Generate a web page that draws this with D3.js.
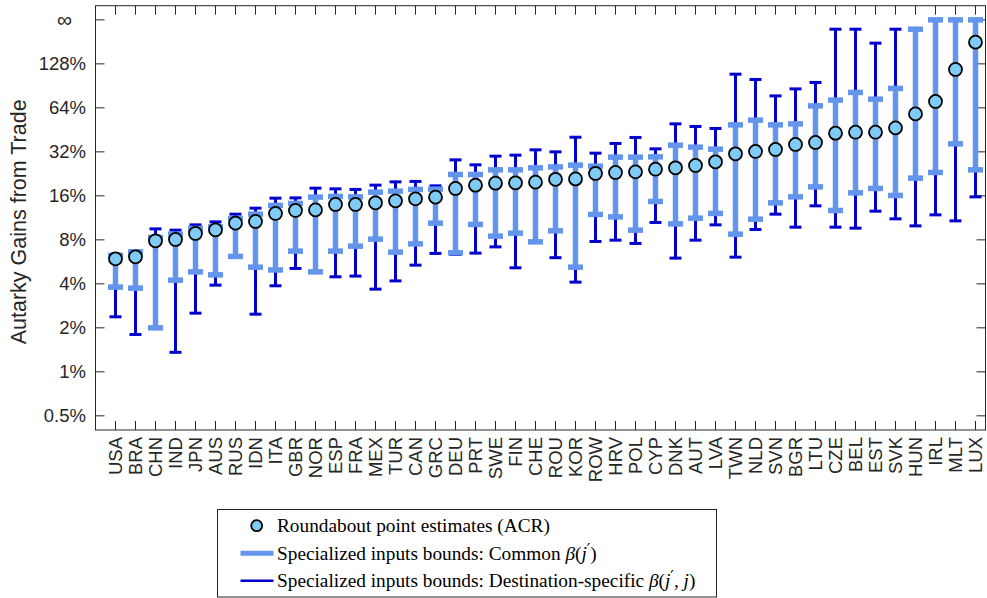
<!DOCTYPE html>
<html>
<head>
<meta charset="utf-8">
<script src="https://cdn.jsdelivr.net/npm/d3@7"></script>
<style>
  body { margin: 0; background: #fff; }
  svg { display: block; }
</style>
</head>
<body>
<div id="chart"></div>
<script>
// Countries sorted by the roundabout (ACR) estimate
const countries = ["USA", "BRA", "CHN", "IND", "JPN", "AUS", "RUS", "IDN", "ITA", "GBR", "NOR",
    "ESP", "FRA", "MEX", "TUR", "CAN", "GRC", "DEU", "PRT", "SWE", "FIN", "CHE",
    "ROU", "KOR", "ROW", "HRV", "POL", "CYP", "DNK", "AUT", "LVA", "TWN", "NLD",
    "SVN", "BGR", "LTU", "CZE", "BEL", "EST", "SVK", "HUN", "IRL", "MLT", "LUX"];

// Gains from trade in percent (Infinity = unbounded)
const pointEst = [5.93, 6.12, 7.88, 8.05, 8.85, 9.36, 10.41, 10.69, 12.13, 12.71, 12.83,
    13.97, 13.97, 14.33, 14.79, 15.26, 15.68, 17.98, 18.94, 19.54, 19.64, 19.86,
    20.75, 20.9, 22.77, 23.13, 23.35, 24.36, 24.87, 25.83, 27.34, 31.01, 32.2,
    33.24, 35.96, 37.1, 42.96, 43.6, 43.6, 46.7, 58.2, 70.8, 117.2, 180.2];

const commonLo = [3.80, 3.74, 2.00, 4.24, 4.83, 4.61, 6.16, 5.20, 4.98, 6.70, 4.83,
    6.70, 7.24, 8.09, 6.59, 7.51, 10.41, 6.52, 10.20, 8.48, 8.89, 7.75,
    9.22, 5.20, 11.94, 11.49, 9.32, 14.65, 10.29, 11.26, 12.13, 8.75, 11.08,
    14.33, 15.75, 18.44, 12.71, 16.78, 17.98, 16.10, 21.15, 23.13, 36.3, 24.10];
const commonHi = [6.26, 6.62, 8.31, 8.75, 9.57, 9.82, 11.21, 11.99, 13.76, 14.20, 15.68,
    15.85, 15.75, 16.96, 17.23, 17.70, 17.78, 22.41, 22.41, 24.10, 24.10, 24.87,
    25.23, 25.95, 25.55, 29.44, 29.44, 29.58, 35.56, 34.46, 33.39, 48.96, 52.73,
    48.96, 49.74, 66.05, 72.3, 81.6, 73.4, 86.9, 221, Infinity, Infinity, Infinity];

const destLo = [2.38, 1.80, 2.00, 1.36, 2.52, 3.92, 6.16, 2.48, 3.88, 5.10, 4.83,
    4.47, 4.52, 3.68, 4.19, 5.37, 6.46, 6.36, 6.49, 7.16, 5.15, 7.75,
    6.04, 4.11, 7.80, 7.96, 7.56, 10.52, 6.00, 7.96, 10.13, 6.09, 9.42,
    11.99, 9.77, 13.67, 9.77, 9.62, 12.57, 11.14, 9.97, 11.86, 10.79, 15.75];
const destHi = [6.36, 6.73, 9.51, 9.32, 10.13, 10.62, 11.99, 13.18, 15.43, 15.50, 18.06,
    17.87, 17.70, 18.94, 19.95, 20.08, 18.73, 28.21, 26.08, 29.91, 30.38, 33.03,
    32.0, 40.3, 31.35, 36.53, 40.15, 33.55, 49.74, 47.74, 46.26, 108.8, 100.1,
    77.3, 86.3, 95.5, 221, 221, 177.4, 221, 221, Infinity, Infinity, Infinity];

const yTicks = [0.5, 1, 2, 4, 8, 16, 32, 64, 128, 256];
const yTickLabels = ["0.5%", "1%", "2%", "4%", "8%", "16%", "32%", "64%", "128%", "\u221E"];
const INF_LEVEL = 256; // where "infinity" is drawn on the axis

const width = 987, height = 598;
const margin = { left: 95.5, right: 1.5, top: 5.7, bottom: 168 };

const rows = countries.map((c, i) => ({
    name: c,
    pos: i + 1,
    p: pointEst[i],
    cLo: commonLo[i], cHi: commonHi[i],
    dLo: destLo[i], dHi: destHi[i]
}));
const fin = v => isFinite(v) ? v : INF_LEVEL;

const svg = d3.select("#chart").append("svg")
    .attr("width", width)
    .attr("height", height);

const x = d3.scaleLinear()
    .domain([0, 44.5])
    .range([margin.left, width - margin.right]);
const y = d3.scaleLog().base(2)
    .domain([0.4, 320])
    .range([height - margin.bottom, margin.top]);

const x0 = x.range()[0], x1 = x.range()[1];
const y0 = y.range()[0], y1 = y.range()[1];
const axisColor = "#262626";
const tickLen = 9;
const font = "'Liberation Sans', Arial, Helvetica, sans-serif";

// Axes frame with inward ticks on all four sides
const axes = svg.append("g");
axes.append("rect")
    .attr("x", x0).attr("y", y1)
    .attr("width", x1 - x0).attr("height", y0 - y1)
    .attr("fill", "none").attr("stroke", axisColor).attr("stroke-width", 1);

axes.selectAll("line.xb").data(rows).join("line")
    .attr("x1", d => x(d.pos)).attr("x2", d => x(d.pos))
    .attr("y1", y0).attr("y2", y0 - tickLen)
    .attr("stroke", axisColor);
axes.selectAll("line.xt").data(rows).join("line")
    .attr("x1", d => x(d.pos)).attr("x2", d => x(d.pos))
    .attr("y1", y1).attr("y2", y1 + tickLen)
    .attr("stroke", axisColor);
axes.selectAll("line.yl").data(yTicks).join("line")
    .attr("x1", x0).attr("x2", x0 + tickLen)
    .attr("y1", d => y(d)).attr("y2", d => y(d))
    .attr("stroke", axisColor);
axes.selectAll("line.yr").data(yTicks).join("line")
    .attr("x1", x1).attr("x2", x1 - tickLen)
    .attr("y1", d => y(d)).attr("y2", d => y(d))
    .attr("stroke", axisColor);

// y tick labels
axes.selectAll("text.ylab").data(yTicks).join("text")
    .attr("x", (d, i) => i === yTicks.length - 1 ? 72 : 86)
    .attr("y", d => y(d))
    .attr("dy", "0.35em")
    .attr("text-anchor", "end")
    .attr("font-family", font)
    .attr("font-size", (d, i) => i === yTicks.length - 1 ? "21px" : "18.5px")
    .attr("fill", axisColor)
    .text((d, i) => yTickLabels[i]);

// x tick labels, rotated
axes.selectAll("text.xlab").data(rows).join("text")
    .attr("transform", d => `translate(${x(d.pos)},${y0 + 7}) rotate(-90)`)
    .attr("dy", "0.35em")
    .attr("text-anchor", "end")
    .attr("font-family", font)
    .attr("font-size", "18.5px")
    .attr("fill", axisColor)
    .text(d => d.name);

// y axis title
svg.append("text")
    .attr("transform", `translate(18,${(y0 + y1) / 2 + 4}) rotate(-90)`)
    .attr("text-anchor", "middle")
    .attr("dy", "0.35em")
    .attr("font-family", font)
    .attr("font-size", "21.5px")
    .attr("fill", axisColor)
    .text("Autarky Gains from Trade");

const lightBlue = "#6495ed";
const darkBlue = "#0000cd";
const pointFill = "#80cbf6";

// error bar helper: vertical line + two caps
function drawBars(g, lo, hi, color, lw, capW) {
    g.selectAll("line.v").data(rows).join("line")
        .attr("x1", d => x(d.pos)).attr("x2", d => x(d.pos))
        .attr("y1", d => y(fin(lo(d)))).attr("y2", d => y(fin(hi(d))))
        .attr("stroke", color).attr("stroke-width", lw);
    g.selectAll("line.lo").data(rows).join("line")
        .attr("x1", d => x(d.pos) - capW / 2).attr("x2", d => x(d.pos) + capW / 2)
        .attr("y1", d => y(fin(lo(d)))).attr("y2", d => y(fin(lo(d))))
        .attr("stroke", color).attr("stroke-width", lw);
    g.selectAll("line.hi").data(rows).join("line")
        .attr("x1", d => x(d.pos) - capW / 2).attr("x2", d => x(d.pos) + capW / 2)
        .attr("y1", d => y(fin(hi(d)))).attr("y2", d => y(fin(hi(d))))
        .attr("stroke", color).attr("stroke-width", lw);
}

// destination-specific first, common on top of it
const gDest = svg.append("g");
drawBars(gDest, d => d.dLo, d => d.dHi, darkBlue, 3, 12);
const gCommon = svg.append("g");
drawBars(gCommon, d => d.cLo, d => d.cHi, lightBlue, 5.5, 15);

// point estimates
svg.append("g").selectAll("circle").data(rows).join("circle")
    .attr("cx", d => x(d.pos))
    .attr("cy", d => y(d.p))
    .attr("r", 6.5)
    .attr("fill", pointFill)
    .attr("stroke", "#000")
    .attr("stroke-width", 1.8);

// Legend
const legend = svg.append("g");
legend.append("rect")
    .attr("x", 217.5).attr("y", 509.5)
    .attr("width", 499).attr("height", 87.5)
    .attr("fill", "#fff").attr("stroke", axisColor).attr("stroke-width", 1);

const legendItems = [
    { kind: "point", y: 525.7 },
    { kind: "common", y: 553.3 },
    { kind: "dest", y: 580.7 }
];
legend.selectAll("circle").data(legendItems.filter(d => d.kind === "point")).join("circle")
    .attr("cx", 256.7).attr("cy", d => d.y).attr("r", 5.5)
    .attr("fill", pointFill).attr("stroke", "#000").attr("stroke-width", 1.8);
legend.selectAll("line").data(legendItems.filter(d => d.kind !== "point")).join("line")
    .attr("x1", 240.5).attr("x2", 273.5)
    .attr("y1", d => d.y).attr("y2", d => d.y)
    .attr("stroke", d => d.kind === "common" ? lightBlue : darkBlue)
    .attr("stroke-width", d => d.kind === "common" ? 5 : 2.5);

const serif = "'Liberation Serif', 'Times New Roman', serif";
const lt = legend.selectAll("text").data(legendItems).join("text")
    .attr("x", 277)
    .attr("y", d => d.y)
    .attr("dy", "0.33em")
    .attr("font-family", serif)
    .attr("font-size", "19px")
    .attr("fill", "#000");

// j-prime: italic j plus a raised prime; the text after it drops back to the baseline
function jPrime(t, after) {
    t.append("tspan").attr("font-style", "italic").text("j");
    t.append("tspan").attr("font-family", "'DejaVu Sans', sans-serif")
        .attr("font-size", "0.8em").attr("dy", "-0.3em").text("\u2032");
    t.append("tspan").attr("dy", "0.24em").text(after);
}

lt.each(function (d) {
    const t = d3.select(this);
    if (d.kind === "point") {
        t.text("Roundabout point estimates (ACR)");
    } else if (d.kind === "common") {
        t.append("tspan").text("Specialized inputs bounds: Common ");
        t.append("tspan").attr("font-style", "italic").text("\u03B2");
        t.append("tspan").text("(");
        jPrime(t, ")");
    } else {
        t.append("tspan").text("Specialized inputs bounds: Destination-specific ");
        t.append("tspan").attr("font-style", "italic").text("\u03B2");
        t.append("tspan").text("(");
        jPrime(t, ", ");
        t.append("tspan").attr("font-style", "italic").text("j");
        t.append("tspan").text(")");
    }
});

// scale the legend font so the first entry spans what it does in the figure
const firstLen = lt.filter(d => d.kind === "point").node().getComputedTextLength();
const legendSize = 19 * 273 / firstLen;
lt.attr("font-size", legendSize + "px");
</script>
</body>
</html>
